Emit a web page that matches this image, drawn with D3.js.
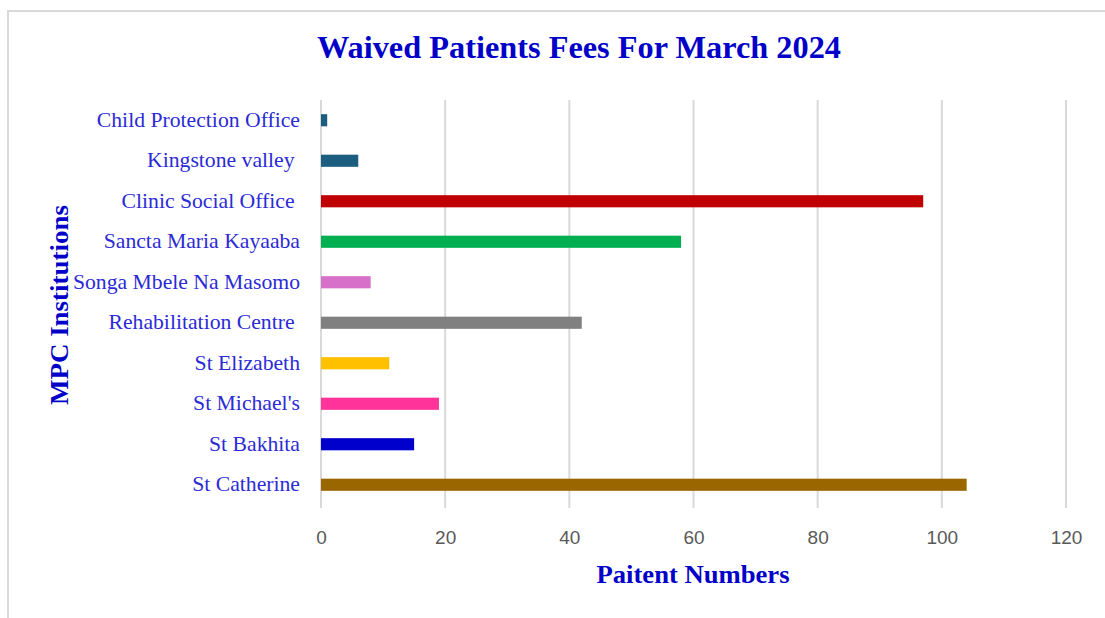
<!DOCTYPE html>
<html>
<head>
<meta charset="utf-8">
<script src="https://cdn.jsdelivr.net/npm/d3@7"></script>
<style>
  html, body { margin: 0; padding: 0; background: #ffffff; }
  svg { display: block; }
  .ylab { white-space: pre; }
</style>
</head>
<body>
<svg id="chart" width="1105" height="618"></svg>
<script>
const categories = [
  "Child Protection Office",
  "Kingstone valley ",
  "Clinic Social Office ",
  "Sancta Maria Kayaaba",
  "Songa Mbele Na Masomo",
  "Rehabilitation Centre ",
  "St Elizabeth",
  "St Michael's",
  "St Bakhita",
  "St Catherine"
];
const values = [1, 6, 97, 58, 8, 42, 11, 19, 15, 104];
const barColors = ["#1B5E80", "#1B5E80", "#C00000", "#00B050", "#D670C8", "#808080", "#FFC000", "#FF3399", "#0000CC", "#996600"];
const xTicks = [0, 20, 40, 60, 80, 100, 120];
const titleText = "Waived Patients Fees For March 2024";
const xTitle = "Paitent Numbers";
const yTitle = "MPC Institutions";

const svg = d3.select("#chart");

// outer frame
svg.append("path")
  .attr("d", "M8,618 L8,11 L1105,11")
  .attr("fill", "none")
  .attr("stroke", "#d9d9d9")
  .attr("stroke-width", 2);

const x = d3.scaleLinear().domain([0, 120]).range([321, 1066]);
const y = d3.scaleBand().domain(categories).range([100, 505]).paddingInner(0.7).paddingOuter(0.35);

// gridlines
svg.append("g").selectAll("line").data(xTicks).join("line")
  .attr("x1", d => x(d)).attr("x2", d => x(d))
  .attr("y1", 100).attr("y2", 508)
  .attr("stroke", "#d9d9d9")
  .attr("stroke-width", 2);

// x tick labels via axis
const xAxis = d3.axisBottom(x).tickValues(xTicks).tickSize(0).tickPadding(0).tickFormat(d3.format("d"));
const gx = svg.append("g").attr("transform", "translate(0,530)").call(xAxis);
gx.select(".domain").remove();
gx.selectAll("text")
  .attr("fill", "#595959")
  .attr("font-family", "'Liberation Sans', Arial, sans-serif")
  .attr("font-size", 19)
  .attr("dy", "0.71em")
  .attr("y", 0);

// bars
svg.append("g").selectAll("rect").data(categories).join("rect")
  .attr("x", x(0))
  .attr("y", d => y(d))
  .attr("width", (d, i) => x(values[i]) - x(0))
  .attr("height", y.bandwidth())
  .attr("fill", (d, i) => barColors[i]);

// y labels
const yAxis = d3.axisLeft(y).tickSize(0).tickPadding(21);
const gy = svg.append("g").attr("transform", `translate(${x(0)},0)`).call(yAxis);
gy.select(".domain").remove();
gy.selectAll("text")
  .attr("class", "ylab")
  .attr("fill", "#2B2BD6")
  .attr("font-family", "'Liberation Serif', 'Times New Roman', serif")
  .attr("font-size", 21.7)
  .attr("dy", "0.3em");

// title
svg.append("text")
  .attr("x", 579).attr("y", 58)
  .attr("text-anchor", "middle")
  .attr("fill", "#0000C8")
  .attr("font-family", "'Liberation Serif', 'Times New Roman', serif")
  .attr("font-weight", "bold")
  .attr("font-size", 32)
  .attr("textLength", 524)
  .attr("lengthAdjust", "spacingAndGlyphs")
  .text(titleText);

// x title
svg.append("text")
  .attr("x", 693).attr("y", 583)
  .attr("text-anchor", "middle")
  .attr("fill", "#0000C8")
  .attr("font-family", "'Liberation Serif', 'Times New Roman', serif")
  .attr("font-weight", "bold")
  .attr("font-size", 26)
  .attr("textLength", 193)
  .attr("lengthAdjust", "spacingAndGlyphs")
  .text(xTitle);

// y title
svg.append("text")
  .attr("transform", "translate(68,305) rotate(-90)")
  .attr("text-anchor", "middle")
  .attr("fill", "#0000C8")
  .attr("font-family", "'Liberation Serif', 'Times New Roman', serif")
  .attr("font-weight", "bold")
  .attr("font-size", 26)
  .attr("textLength", 200)
  .attr("lengthAdjust", "spacingAndGlyphs")
  .text(yTitle);
</script>
</body>
</html>
